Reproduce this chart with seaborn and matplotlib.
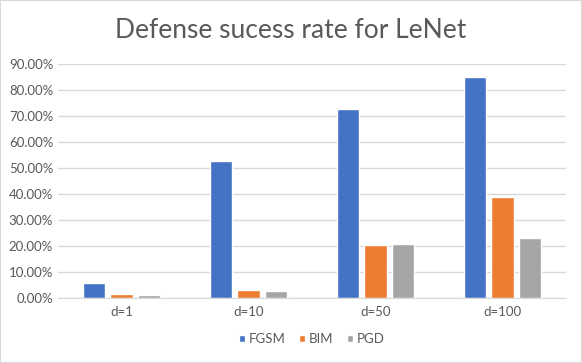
import pandas as pd
import seaborn as sns
import matplotlib.pyplot as plt
from matplotlib.ticker import PercentFormatter
from matplotlib.patches import Rectangle

categories = ["d=1", "d=10", "d=50", "d=100"]
fgsm = [0.059, 0.528, 0.728, 0.851]
bim = [0.017, 0.032, 0.205, 0.390]
pgd = [0.013, 0.028, 0.209, 0.232]
methods = ["FGSM", "BIM", "PGD"]
colors = ["#4472C4", "#ED7D31", "#A5A5A5"]

df = pd.DataFrame({
    "d": categories * 3,
    "method": [m for m in methods for _ in categories],
    "rate": fgsm + bim + pgd,
})

sns.set_style("white")
plt.rcParams["font.family"] = ["Lato", "DejaVu Sans"]

fig = plt.figure(figsize=(5.82, 3.63), dpi=100)
ax = fig.add_axes([0.0997, 0.179, 0.8728, 0.645])
sns.barplot(data=df, x="d", y="rate", hue="method", palette=colors,
            width=0.66, gap=0.21, ax=ax, legend=True, saturation=1)

ax.set_ylim(0, 0.9)
ax.set_yticks([i / 10 for i in range(10)])
ax.yaxis.set_major_formatter(PercentFormatter(1.0, decimals=2))
ax.grid(axis="y", color="#d9d9d9", linewidth=1)
ax.set_axisbelow(True)
for s in ["top", "right", "left"]:
    ax.spines[s].set_visible(False)
ax.spines["bottom"].set_color("#d9d9d9")
ax.tick_params(axis="both", length=0, colors="#595959", labelsize=9.5)
ax.tick_params(axis="x", pad=6)
ax.set_xlabel("")
ax.set_ylabel("")

ax.legend(loc="upper center", bbox_to_anchor=(0.5, -0.1), ncol=3, frameon=False,
          fontsize=9.5, handlelength=0.45, handleheight=0.45, handletextpad=0.3,
          columnspacing=1.0, labelcolor="#595959")

fig.text(0.5, 0.915, "Defense sucess rate for LeNet", ha="center", va="center",
         fontsize=19, color="#595959")
fig.patches.append(Rectangle((0, 0), 1, 1, transform=fig.transFigure, fill=False,
                             edgecolor="#d9d9d9", linewidth=1.5))

fig.savefig("out.png", dpi=100)
